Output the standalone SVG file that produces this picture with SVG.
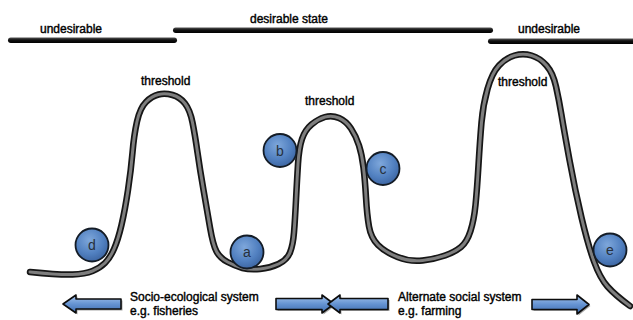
<svg xmlns="http://www.w3.org/2000/svg" width="633" height="320" viewBox="0 0 633 320">
<defs>
<style>
.lbl{font-family:"Liberation Sans",Arial,sans-serif;font-size:12px;fill:#000;stroke:#000;stroke-width:0.4}
.ball{fill:url(#ballG);stroke:#141c26;stroke-width:1.8}
.ballTxt{font-family:"Liberation Sans",Arial,sans-serif;font-size:14px;fill:#26303c;text-anchor:middle}
.bar{fill:url(#barG)}
.arrow{fill:url(#arrG);stroke:#0d0d0d;stroke-width:1.6;stroke-linejoin:round}
.shadow{fill:#000;opacity:0.35}
.curveOut{fill:none;stroke:#161616;stroke-width:6.5;stroke-linecap:round;stroke-linejoin:round}
.curveIn{fill:none;stroke:#7e7e7e;stroke-width:3;stroke-linecap:round;stroke-linejoin:round}
</style>
<radialGradient id="ballG" cx="0.42" cy="0.35" r="0.7">
<stop offset="0" stop-color="#7ea7db"/>
<stop offset="0.6" stop-color="#5180c0"/>
<stop offset="1" stop-color="#3a629e"/>
</radialGradient>
<linearGradient id="barG" x1="0" y1="0" x2="0" y2="1">
<stop offset="0" stop-color="#555"/>
<stop offset="0.45" stop-color="#111"/>
<stop offset="1" stop-color="#000"/>
</linearGradient>
<linearGradient id="arrG" x1="0" y1="0" x2="0" y2="1">
<stop offset="0" stop-color="#a6c6ee"/>
<stop offset="0.5" stop-color="#6593d2"/>
<stop offset="1" stop-color="#3f6cae"/>
</linearGradient>
</defs>

<g id="bars">
<rect class="bar" x="8" y="37.5" width="169" height="5.5" rx="2.75"/>
<rect class="bar" x="173" y="27.5" width="320" height="5.5" rx="2.75"/>
<rect class="bar" x="488" y="38.5" width="150" height="5.5" rx="2.75"/>
</g>

<g id="connectors">
<path id="landscape-outline" class="curveOut" d="M30,272 Q60,275 72.5,274.5 Q85,274 92.5,271 Q100,268 105,263 Q110,258 114,249 Q118,240 121.5,225 Q125,210 128,190 Q131,170 132.5,152.5 Q134,135 137,121.5 Q140,108 146,102 Q152,96 158.5,94.5 Q165,93 172.5,95 Q180,97 185,103.5 Q190,110 192.5,122.5 Q195,135 197.5,152.5 Q200,170 203.5,190 Q207,210 210,227.5 Q213,245 216.5,251.5 Q220,258 227.5,262 Q235,266 242.5,268 Q250,270 260,269 Q270,268 278.5,264 Q287,260 290,252.5 Q293,245 294,232.5 Q295,220 296,200 Q297,180 298,164 Q299,148 302,139 Q305,130 311.5,124.5 Q318,119 325,117 Q332,115 339,118 Q346,121 351,128.5 Q356,136 359,145.5 Q362,155 363.5,167.5 Q365,180 366,197.5 Q367,215 369,226.5 Q371,238 378,245 Q385,252 397.5,257 Q410,262 422.5,260.5 Q435,259 445,255.5 Q455,252 461,247 Q467,242 470.5,231 Q474,220 475.5,205 Q477,190 478.5,165 Q480,140 481.5,122.5 Q483,105 487.5,89 Q492,73 499,65.5 Q506,58 514.5,55.5 Q523,53 531.5,55.5 Q540,58 546.5,65.5 Q553,73 556,86.5 Q559,100 561.5,115 Q564,130 569.5,160 Q575,190 581.5,217.5 Q588,245 594,261.5 Q600,278 607.5,286.5 Q615,295 630,306"/>
<path id="landscape-fill" class="curveIn" d="M30,272 Q60,275 72.5,274.5 Q85,274 92.5,271 Q100,268 105,263 Q110,258 114,249 Q118,240 121.5,225 Q125,210 128,190 Q131,170 132.5,152.5 Q134,135 137,121.5 Q140,108 146,102 Q152,96 158.5,94.5 Q165,93 172.5,95 Q180,97 185,103.5 Q190,110 192.5,122.5 Q195,135 197.5,152.5 Q200,170 203.5,190 Q207,210 210,227.5 Q213,245 216.5,251.5 Q220,258 227.5,262 Q235,266 242.5,268 Q250,270 260,269 Q270,268 278.5,264 Q287,260 290,252.5 Q293,245 294,232.5 Q295,220 296,200 Q297,180 298,164 Q299,148 302,139 Q305,130 311.5,124.5 Q318,119 325,117 Q332,115 339,118 Q346,121 351,128.5 Q356,136 359,145.5 Q362,155 363.5,167.5 Q365,180 366,197.5 Q367,215 369,226.5 Q371,238 378,245 Q385,252 397.5,257 Q410,262 422.5,260.5 Q435,259 445,255.5 Q455,252 461,247 Q467,242 470.5,231 Q474,220 475.5,205 Q477,190 478.5,165 Q480,140 481.5,122.5 Q483,105 487.5,89 Q492,73 499,65.5 Q506,58 514.5,55.5 Q523,53 531.5,55.5 Q540,58 546.5,65.5 Q553,73 556,86.5 Q559,100 561.5,115 Q564,130 569.5,160 Q575,190 581.5,217.5 Q588,245 594,261.5 Q600,278 607.5,286.5 Q615,295 630,306"/>
<g id="arrow-left">
<path class="shadow" d="M64.5,305.5 L77.5,296.5 L77.5,300.5 L122.5,300.5 L122.5,310.5 L77.5,310.5 L77.5,314.5 Z"/>
<path class="arrow" d="M63,304 L76,295 L76,299 L121,299 L121,309 L76,309 L76,313 Z"/>
</g>
<g id="arrow-mid-right">
<path class="shadow" d="M277.5,300 L323.5,300 L323.5,296.5 L335.5,305.5 L323.5,314.5 L323.5,311 L277.5,311 Z"/>
<path class="arrow" d="M276,298.5 L322,298.5 L322,295 L334,304 L322,313 L322,309.5 L276,309.5 Z"/>
</g>
<g id="arrow-mid-left">
<path class="shadow" d="M329.5,305.5 L341.5,296.5 L341.5,300 L389.5,300 L389.5,311 L341.5,311 L341.5,314.5 Z"/>
<path class="arrow" d="M328,304 L340,295 L340,298.5 L388,298.5 L388,309.5 L340,309.5 L340,313 Z"/>
</g>
<g id="arrow-right">
<path class="shadow" d="M533.5,301 L578.5,301 L578.5,296.5 L590.5,306 L578.5,315.5 L578.5,311 L533.5,311 Z"/>
<path class="arrow" d="M532,299.5 L577,299.5 L577,295 L589,304.5 L577,314 L577,309.5 L532,309.5 Z"/>
</g>
</g>

<g id="node-d"><circle class="ball" cx="92" cy="245" r="16.5"/><text class="ballTxt" x="92" y="250">d</text></g>
<g id="node-a"><circle class="ball" cx="247" cy="252" r="16.5"/><text class="ballTxt" x="247" y="257">a</text></g>
<g id="node-b"><circle class="ball" cx="280" cy="150.5" r="16.5"/><text class="ballTxt" x="280" y="155.5">b</text></g>
<g id="node-c"><circle class="ball" cx="383" cy="168.5" r="16.5"/><text class="ballTxt" x="383" y="173.5">c</text></g>
<g id="node-e"><circle class="ball" cx="610" cy="250" r="16.5"/><text class="ballTxt" x="610" y="255">e</text></g>

<g id="labels">
<text class="lbl" x="40" y="33">undesirable</text>
<text class="lbl" x="250" y="23">desirable state</text>
<text class="lbl" x="518" y="33">undesirable</text>
<text class="lbl" x="141" y="85">threshold</text>
<text class="lbl" x="305" y="105">threshold</text>
<text class="lbl" x="498" y="85.5">threshold</text>
<text class="lbl" x="130" y="301">Socio-ecological system</text>
<text class="lbl" x="130" y="315">e.g. fisheries</text>
<text class="lbl" x="398" y="301">Alternate social system</text>
<text class="lbl" x="398" y="315">e.g. farming</text>
</g>
</svg>
